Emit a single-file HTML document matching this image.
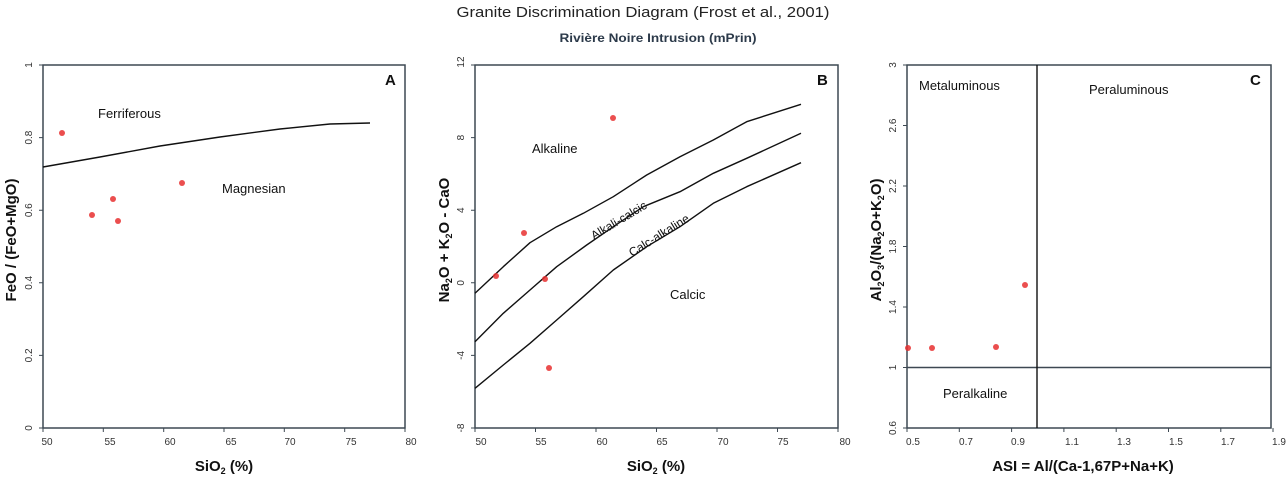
<!DOCTYPE html>
<html><head><meta charset="utf-8"><style>body{margin:0;background:#fff}svg{display:block}</style></head>
<body>
<svg width="1286" height="483" viewBox="0 0 1286 483" font-family="Liberation Sans, sans-serif">
<rect width="1286" height="483" fill="#fff"/>
<text x="643" y="17" text-anchor="middle" font-size="15" fill="#222" textLength="373" lengthAdjust="spacingAndGlyphs">Granite Discrimination Diagram (Frost et al., 2001)</text>
<text x="658" y="42" text-anchor="middle" font-size="12" font-weight="bold" fill="#2c3a4a" textLength="197" lengthAdjust="spacingAndGlyphs">Rivière Noire Intrusion (mPrin)</text>

<g stroke="#3d4852" stroke-width="1.5" fill="none">
<rect x="43" y="65" width="362" height="363"/>
<rect x="475" y="65" width="363" height="363"/>
<rect x="907" y="65" width="364" height="363"/>
</g>
<g stroke="#3d4852" stroke-width="1">
<path d="M43,428v4M103.3,428v4M163.7,428v4M224,428v4M284.3,428v4M344.7,428v4M405,428v4M43,65h-4M43,137.6h-4M43,210.2h-4M43,282.8h-4M43,355.4h-4M43,428h-4"/>
<path d="M475,428v4M535.5,428v4M596,428v4M656.5,428v4M717,428v4M777.5,428v4M838,428v4M475,65h-4M475,137.6h-4M475,210.2h-4M475,282.8h-4M475,355.4h-4M475,428h-4"/>
<path d="M907,428v4M959.3,428v4M1011.6,428v4M1063.9,428v4M1116.2,428v4M1168.5,428v4M1220.8,428v4M1273,428v4M907,65h-4M907,125.5h-4M907,186h-4M907,246.5h-4M907,307h-4M907,367.5h-4M907,428h-4"/>
</g>
<g font-size="10" fill="#333" text-anchor="middle">
<text x="47" y="445">50</text><text x="110" y="445">55</text><text x="170" y="445">60</text><text x="231" y="445">65</text><text x="290" y="445">70</text><text x="351" y="445">75</text><text x="411" y="445">80</text>
<text x="481" y="445">50</text><text x="541" y="445">55</text><text x="602" y="445">60</text><text x="662" y="445">65</text><text x="723" y="445">70</text><text x="783" y="445">75</text><text x="845" y="445">80</text>
<text x="913" y="445">0.5</text><text x="966" y="445">0.7</text><text x="1018" y="445">0.9</text><text x="1072" y="445">1.1</text><text x="1124" y="445">1.3</text><text x="1176" y="445">1.5</text><text x="1228" y="445">1.7</text><text x="1279" y="445">1.9</text>
</g>
<g font-size="10" fill="#333" text-anchor="middle">
<text transform="translate(32,65) rotate(-90)">1</text>
<text transform="translate(32,137.6) rotate(-90)">0.8</text>
<text transform="translate(32,210.2) rotate(-90)">0.6</text>
<text transform="translate(32,282.8) rotate(-90)">0.4</text>
<text transform="translate(32,355.4) rotate(-90)">0.2</text>
<text transform="translate(32,428) rotate(-90)">0</text>
<text transform="translate(464,62) rotate(-90)">12</text>
<text transform="translate(464,137.6) rotate(-90)">8</text>
<text transform="translate(464,210.2) rotate(-90)">4</text>
<text transform="translate(464,282.8) rotate(-90)">0</text>
<text transform="translate(464,355.4) rotate(-90)">-4</text>
<text transform="translate(464,428) rotate(-90)">-8</text>
<text transform="translate(896,65) rotate(-90)">3</text>
<text transform="translate(896,125.5) rotate(-90)">2.6</text>
<text transform="translate(896,186) rotate(-90)">2.2</text>
<text transform="translate(896,246.5) rotate(-90)">1.8</text>
<text transform="translate(896,307) rotate(-90)">1.4</text>
<text transform="translate(896,367.5) rotate(-90)">1</text>
<text transform="translate(896,428) rotate(-90)">0.6</text>
</g>
<g font-size="15" font-weight="bold" fill="#111" text-anchor="middle">
<text x="224" y="471">SiO<tspan font-size="9" dy="3">2</tspan><tspan dy="-3"> (%)</tspan></text>
<text x="656" y="471">SiO<tspan font-size="9" dy="3">2</tspan><tspan dy="-3"> (%)</tspan></text>
<text x="1083" y="471">ASI = Al/(Ca-1,67P+Na+K)</text>
<text transform="translate(16,240) rotate(-90)">FeO / (FeO+MgO)</text>
<text transform="translate(449,240) rotate(-90)">Na<tspan font-size="9" dy="3">2</tspan><tspan dy="-3">O + K</tspan><tspan font-size="9" dy="3">2</tspan><tspan dy="-3">O - CaO</tspan></text>
<text transform="translate(881,240) rotate(-90)">Al<tspan font-size="9" dy="3">2</tspan><tspan dy="-3">O</tspan><tspan font-size="9" dy="3">3</tspan><tspan dy="-3">/(Na</tspan><tspan font-size="9" dy="3">2</tspan><tspan dy="-3">O+K</tspan><tspan font-size="9" dy="3">2</tspan><tspan dy="-3">O)</tspan></text>
</g>
<g font-size="15" font-weight="bold" fill="#111">
<text x="385" y="85">A</text><text x="817" y="85">B</text><text x="1250" y="85">C</text>
</g>
<g stroke="#111" stroke-width="1.4" fill="none" stroke-linejoin="round">
<polyline points="43,167 100,157 160,146 220,137 280,129 330,124 370,123"/>
<polyline points="475,293.3 503.3,266.7 530,242.7 556.7,226.7 583.3,213.3 613.3,196.7 646.7,175 680,156.7 713.3,140 746.7,121.7 801,104.3"/>
<polyline points="475,341.7 503.3,313.3 530,290 556.7,266.7 586.7,245 613.3,226.7 643.3,206.7 680,191.7 713.3,173.3 746.7,158.3 801,133.3"/>
<polyline points="475,388.3 503.3,365 530,343.3 556.7,320 583.3,296.7 613.3,270 646.7,246.7 680,226.7 713.3,203.3 746.7,186.7 801,162.7"/>
<path d="M907,367.5 H1271" stroke="#3d4852"/>
<path d="M1037,65 V428"/>
</g>
<g font-size="13" fill="#111">
<text x="98" y="118">Ferriferous</text>
<text x="222" y="193">Magnesian</text>
<text x="532" y="153">Alkaline</text>
<text x="670" y="299">Calcic</text>
<text transform="translate(594,240) rotate(-31)" font-size="12">Alkali-calcic</text>
<text transform="translate(632,257) rotate(-32)" font-size="12">Calc-alkaline</text>
<text x="919" y="90">Metaluminous</text>
<text x="1089" y="94">Peraluminous</text>
<text x="943" y="398">Peralkaline</text>
</g>
<g fill="#e83030" opacity="0.85">
<circle cx="62" cy="133" r="3"/><circle cx="92" cy="215" r="3"/><circle cx="113" cy="199" r="3"/><circle cx="118" cy="221" r="3"/><circle cx="182" cy="183" r="3"/>
<circle cx="496" cy="276" r="3"/><circle cx="524" cy="233" r="3"/><circle cx="545" cy="279" r="3"/><circle cx="613" cy="118" r="3"/><circle cx="549" cy="368" r="3"/>
<circle cx="908" cy="348" r="3"/><circle cx="932" cy="348" r="3"/><circle cx="996" cy="347" r="3"/><circle cx="1025" cy="285" r="3"/>
</g>
</svg>
</body></html>
